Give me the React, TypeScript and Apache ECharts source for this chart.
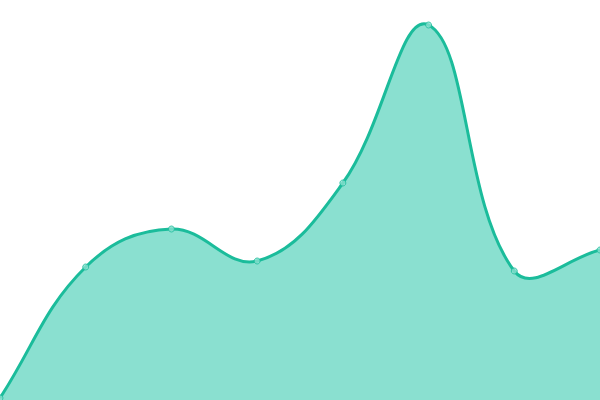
import React, { useRef, useEffect } from 'react';
import * as echarts from 'echarts';

// x categories, evenly spaced, no gap at the edges
const categories = ['1', '2', '3', '4', '5', '6', '7', '8'];
const values = [2, 133, 171, 139, 217, 375, 129, 150];

const LINE = '#1bbc9b';
const FILL = '#8ae0d0';
const TENSION = 0.4;

// distance-weighted spline through the points
function curvePath(pts: number[][]): string {
  const cps = pts.map((p, i) => {
    const prev = pts[Math.max(i - 1, 0)];
    const next = pts[Math.min(i + 1, pts.length - 1)];
    const d01 = Math.hypot(p[0] - prev[0], p[1] - prev[1]);
    const d12 = Math.hypot(next[0] - p[0], next[1] - p[1]);
    let s01 = d01 / (d01 + d12);
    let s12 = d12 / (d01 + d12);
    if (isNaN(s01)) s01 = 0;
    if (isNaN(s12)) s12 = 0;
    const fa = TENSION * s01;
    const fb = TENSION * s12;
    return {
      prev: [p[0] - fa * (next[0] - prev[0]), p[1] - fa * (next[1] - prev[1])],
      next: [p[0] + fb * (next[0] - prev[0]), p[1] + fb * (next[1] - prev[1])]
    };
  });
  let d = `M${pts[0][0]},${pts[0][1]}`;
  for (let i = 0; i < pts.length - 1; i++) {
    const c1 = cps[i].next;
    const c2 = cps[i + 1].prev;
    const p2 = pts[i + 1];
    d += ` C${c1[0]},${c1[1]} ${c2[0]},${c2[1]} ${p2[0]},${p2[1]}`;
  }
  return d;
}

export default function App() {
  const chartRef = useRef<HTMLDivElement>(null);

  useEffect(() => {
    document.body.style.margin = '0';
    if (!chartRef.current) return;
    const chart = echarts.init(chartRef.current, undefined, { renderer: 'svg' });

    chart.setOption({
      animation: false,
      grid: { left: 0, right: 0, top: 0, bottom: 0 },
      xAxis: {
        type: 'category',
        data: categories,
        boundaryGap: false,
        show: false
      },
      yAxis: {
        type: 'value',
        min: 0,
        max: 400,
        show: false
      },
      series: [
        {
          type: 'custom',
          data: values.map((v, i) => [i, v]),
          renderItem: (params: any, api: any) => {
            if (params.dataIndex !== 0) return null;
            const pts = values.map((v, i) => api.coord([i, v]));
            const line = curvePath(pts);
            const last = pts[pts.length - 1];
            const base0 = api.coord([0, 0]);
            const base1 = api.coord([values.length - 1, 0]);
            const area = `${line} L${last[0]},${base1[1]} L${base0[0]},${base0[1]} Z`;
            return {
              type: 'group',
              children: [
                {
                  type: 'path',
                  shape: { pathData: area },
                  style: { fill: FILL, stroke: 'none' }
                },
                {
                  type: 'path',
                  shape: { pathData: line },
                  style: { fill: 'none', stroke: LINE, lineWidth: 3 }
                }
              ]
            };
          }
        },
        {
          type: 'scatter',
          data: values.map((v, i) => [i, v]),
          symbol: 'circle',
          symbolSize: 6,
          itemStyle: { color: FILL, borderColor: LINE, borderWidth: 1 }
        }
      ]
    });

    return () => {
      chart.dispose();
    };
  }, []);

  return <div ref={chartRef} style={{ width: '600px', height: '400px' }} />;
}
